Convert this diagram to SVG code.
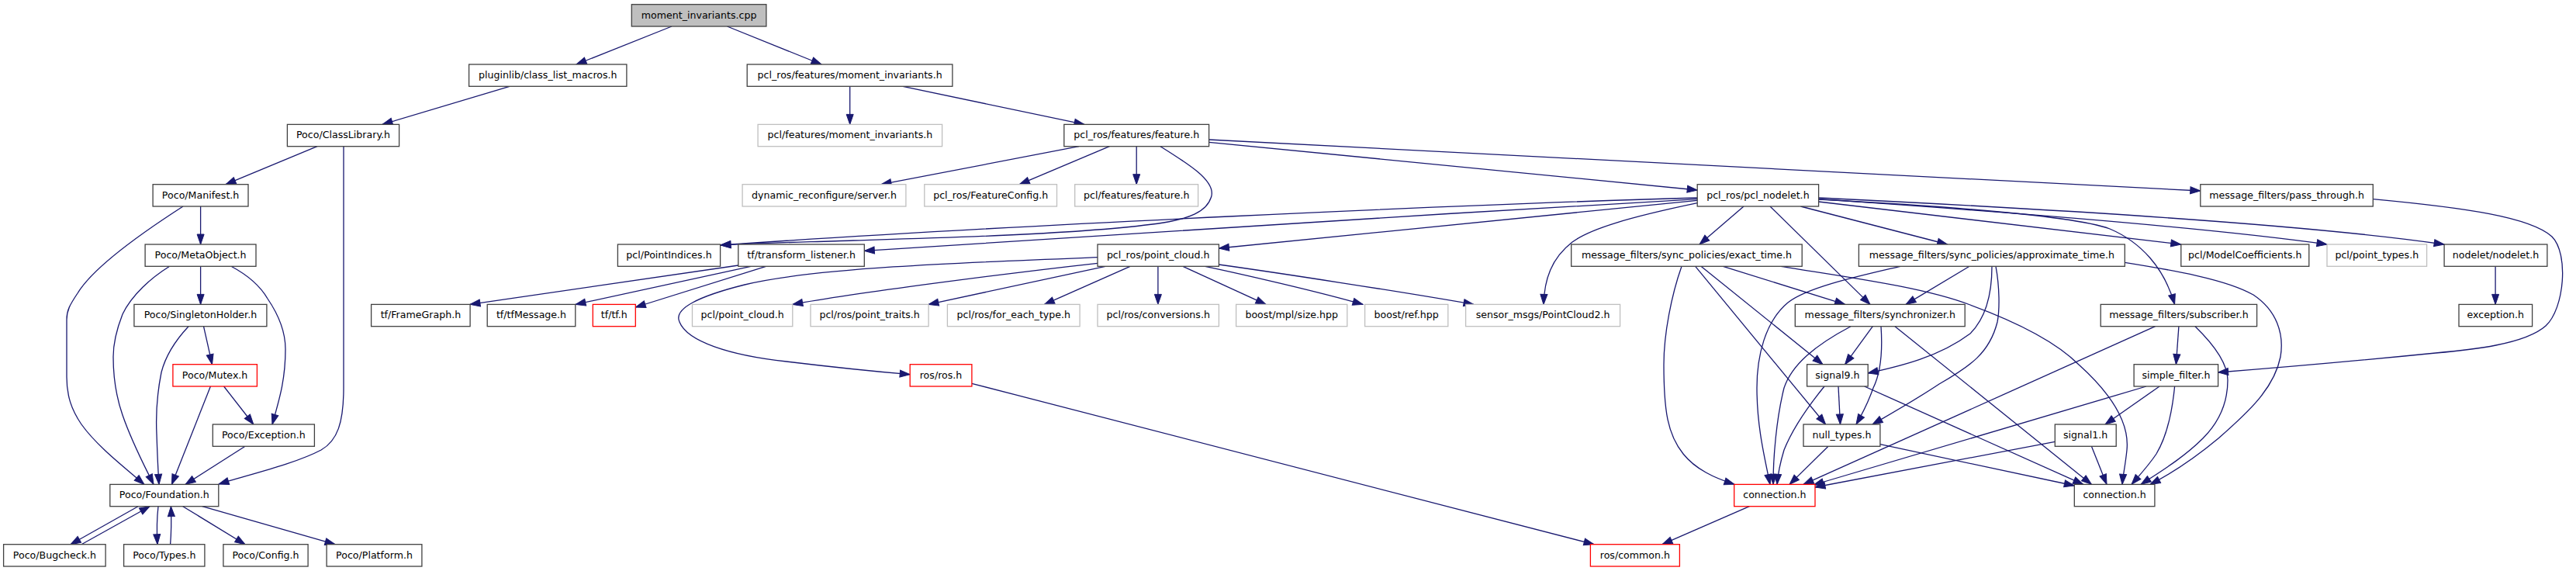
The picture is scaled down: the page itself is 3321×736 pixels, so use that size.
<svg xmlns="http://www.w3.org/2000/svg" width="3321" height="736" viewBox="0 0 3321 736">
<style>
.node rect{fill:#fff;stroke:#404040;stroke-width:1.3}
.node.g rect{stroke:#bfbfbf}
.node.r rect{stroke:#ff0000}
.node.root rect{fill:#bfbfbf}
.node text{font-family:"DejaVu Sans",sans-serif;font-size:12.6px;fill:#000;text-anchor:middle}
.edges path{fill:none;stroke:#191970;stroke-width:1.3;marker-end:url(#a)}
</style>
<defs>
<marker id="a" markerUnits="userSpaceOnUse" markerWidth="14" markerHeight="10" refX="13" refY="5" orient="auto" overflow="visible">
<path d="M0,0.5 L13,5 L0,9.5 z" fill="#191970" stroke="#191970" stroke-width="1"/>
</marker>
</defs>
<rect width="3321" height="736" fill="#fff"/>
<g class="edges">
<path d="M866,34 L743,83"/>
<path d="M937.5,34 L1059,83"/>
<path d="M657,111.3 L493,160.4"/>
<path d="M1095.7,111.3 L1095.7,160.4"/>
<path d="M1164,111.3 L1398,160.4"/>
<path d="M409,188.7 L291,237.7"/>
<path d="M443,188.7 L443,500 C443,545 435,568 414,580 C380,598 320,612 282,624"/>
<path d="M258.6,266 L258.6,315"/>
<path d="M236,266 C180,302 120,345 100,378 C90,393 86,400 86,412 L86,486 C86,510 92,528 105,547 C125,575 160,602 186,624.4"/>
<path d="M258.6,343.3 L258.6,392.4"/>
<path d="M218.6,343.3 C195,358 170,380 158,405 C149,428 146,445 146,460 C146,490 150,512 158,535 C170,570 185,598 198,624.4"/>
<path d="M298,343.3 C320,355 335,368 345,385 C362,410 368,430 368,450 C368,490 360,515 351,547"/>
<path d="M262.5,420.7 L273.5,469.7"/>
<path d="M243,420.7 C225,440 213,460 208,480 C202,510 201,540 202,560 C203,590 204,610 205,624.4"/>
<path d="M271.4,498 L221.4,624.4"/>
<path d="M288.6,498 L326.8,547"/>
<path d="M316,575.3 L239,624.4"/>
<path d="M178,652.7 L91,701.7"/>
<path d="M105,701.7 L193,652.7"/>
<path d="M204,652.7 C202,670 202,685 203,701.7"/>
<path d="M219.6,701.7 C221,685 221,670 220.4,652.7"/>
<path d="M235.7,652.7 L316,701.7"/>
<path d="M260.7,652.7 L432,701.7"/>
<path d="M1391,188.7 L1136,237.7"/>
<path d="M1430.4,188.7 L1314.3,237.7"/>
<path d="M1465.2,188.7 L1465.2,237.7"/>
<path d="M1496,188.7 C1530,210 1566,232 1562,252 C1557,274 1530,282 1500,287 C1400,302 1200,307 1100,310 C1040,312 980,313 929,316"/>
<path d="M1558.6,183.3 L2188.2,245"/>
<path d="M1558.6,180 L2836.8,246"/>
<path d="M2188.2,255 C1900,263 1300,290 929,316"/>
<path d="M2188.2,256.7 C1800,278 1300,312 1114.3,323.3"/>
<path d="M2188.2,258.3 L1571.4,320"/>
<path d="M2188.2,261.7 C2100,280 2050,295 2027,312 C2000,333 1991,360 1990,392.4"/>
<path d="M2248,266 L2191,315"/>
<path d="M2282,266 L2411,392.4"/>
<path d="M2321.4,266 L2510.7,315"/>
<path d="M2344.6,260 L2811.8,315"/>
<path d="M2344.6,256.7 C2600,274 2850,294 3000,315"/>
<path d="M2344.6,255 C2700,272 3000,293 3151.1,315"/>
<path d="M2344.6,257 C2550,268 2680,280 2720,295 C2760,312 2790,345 2803.6,392.4"/>
<path d="M952,342 L606,392.4"/>
<path d="M968,343.3 L742,392.4"/>
<path d="M987.5,343.3 L819.3,396"/>
<path d="M1415,331.7 C1250,338 1050,345 960,367 C900,382 868,398 876,415 C886,440 940,458 1014,466 C1080,474 1130,479 1173.2,482.7"/>
<path d="M1415,339.3 C1300,352 1100,378 1021.8,392.4"/>
<path d="M1425,343.3 L1197,392.4"/>
<path d="M1457,343.3 L1346.4,392.4"/>
<path d="M1492.9,343.3 L1492.9,392.4"/>
<path d="M1525,343.3 L1632,392.4"/>
<path d="M1553.6,343.3 C1600,353 1700,376 1757,392.4"/>
<path d="M1571.4,341 C1650,352 1800,375 1900,392.4"/>
<path d="M2168,343.3 C2155,380 2145,430 2145,470 C2145,530 2150,560 2170,585 C2186,605 2210,616 2236,624.4"/>
<path d="M2185.7,343.3 L2353.6,547"/>
<path d="M2193,343.3 L2350,469.7"/>
<path d="M2221.4,343.3 L2378.6,392.4"/>
<path d="M2296,343.3 C2380,357 2480,370 2540,393 C2600,415 2650,440 2680,470 C2730,515 2745,550 2742,580 C2740,600 2737,612 2736,624.4"/>
<path d="M2450,343.3 C2400,355 2330,370 2305,390 C2275,415 2265,460 2265,500 C2265,550 2275,590 2282,624.4"/>
<path d="M2539,343.3 L2457,392.4"/>
<path d="M2568,343.3 C2568,380 2560,410 2540,430 C2500,460 2450,472 2408.2,481"/>
<path d="M2573,343.3 C2578,370 2578,400 2575,415 C2565,455 2540,472 2500,495 C2470,515 2440,532 2414,547"/>
<path d="M2739.3,338.3 C2800,348 2870,360 2905,380 C2935,400 2945,430 2940,460 C2932,500 2900,530 2860,565 C2830,590 2800,610 2772,624.4"/>
<path d="M2808.9,420.7 L2805.4,469.7"/>
<path d="M2830,420.7 C2855,445 2872,470 2872,490 C2872,520 2860,545 2840,565 C2815,590 2785,608 2760,624.4"/>
<path d="M2778.6,420.7 L2325,624.4"/>
<path d="M2803.6,498 C2800,535 2792,565 2780,585 C2770,600 2758,613 2748,624.4"/>
<path d="M2767,498 L2338,625"/>
<path d="M2784,498 L2714,547"/>
<path d="M2649.3,569.3 L2340,628"/>
<path d="M2696.4,575.3 L2716,624.4"/>
<path d="M2414.3,420.7 L2378.6,469.7"/>
<path d="M2425,420.7 C2427,450 2425,480 2415,500 C2408,520 2400,535 2393,547"/>
<path d="M2386,420.7 C2340,445 2310,470 2300,500 C2290,540 2286,590 2286,624.4"/>
<path d="M2443,420.7 L2696.4,624.4"/>
<path d="M2370,498 L2372.5,547"/>
<path d="M2352,498 C2330,525 2310,555 2300,580 C2294,600 2292,612 2291,624.4"/>
<path d="M2403.6,498 L2685.7,624.4"/>
<path d="M2357,575.3 L2307,624.4"/>
<path d="M2423.9,572.7 L2674.3,626"/>
<path d="M2255.4,652.7 L2143,701.7"/>
<path d="M1252.9,494.3 L2055,701.7"/>
<path d="M3217.1,343.3 L3217.1,392.4"/>
<path d="M3059.3,256.7 C3180,268 3262,280 3290,305 C3312,327 3306,398 3282,420 C3255,444 3185,451 3140,455 C3050,464 2950,473 2859.6,480"/>
</g>
<g id="n_cpp" class="node root"><rect x="814.3" y="5.7" width="173.6" height="28.3"/><text x="901.1" y="23.7">moment_invariants.cpp</text></g>
<g id="n_pluginlib" class="node"><rect x="604.6" y="83" width="203.3" height="28.3"/><text x="706.3" y="101">pluginlib/class_list_macros.h</text></g>
<g id="n_pclros_mi" class="node"><rect x="963.2" y="83" width="264.7" height="28.3"/><text x="1095.6" y="101">pcl_ros/features/moment_invariants.h</text></g>
<g id="n_classlib" class="node"><rect x="370.4" y="160.4" width="144.2" height="28.3"/><text x="442.5" y="178.4">Poco/ClassLibrary.h</text></g>
<g id="n_pcl_mi" class="node g"><rect x="977.1" y="160.4" width="237.5" height="28.3"/><text x="1095.9" y="178.4">pcl/features/moment_invariants.h</text></g>
<g id="n_feature" class="node"><rect x="1371.8" y="160.4" width="186.8" height="28.3"/><text x="1465.2" y="178.4">pcl_ros/features/feature.h</text></g>
<g id="n_manifest" class="node"><rect x="197.1" y="237.7" width="122.9" height="28.3"/><text x="258.6" y="255.7">Poco/Manifest.h</text></g>
<g id="n_dynrec" class="node g"><rect x="957.1" y="237.7" width="210.8" height="28.3"/><text x="1062.5" y="255.7">dynamic_reconfigure/server.h</text></g>
<g id="n_featcfg" class="node g"><rect x="1191.8" y="237.7" width="170.7" height="28.3"/><text x="1277.2" y="255.7">pcl_ros/FeatureConfig.h</text></g>
<g id="n_pclfeat" class="node g"><rect x="1385.7" y="237.7" width="158.9" height="28.3"/><text x="1465.2" y="255.7">pcl/features/feature.h</text></g>
<g id="n_nodeletpcl" class="node"><rect x="2188.2" y="237.7" width="156.4" height="28.3"/><text x="2266.4" y="255.7">pcl_ros/pcl_nodelet.h</text></g>
<g id="n_passthrough" class="node"><rect x="2836.8" y="237.7" width="222.5" height="28.3"/><text x="2948.1" y="255.7">message_filters/pass_through.h</text></g>
<g id="n_metaobject" class="node"><rect x="187.1" y="315" width="142.9" height="28.3"/><text x="258.6" y="333">Poco/MetaObject.h</text></g>
<g id="n_pointindices" class="node"><rect x="796.4" y="315" width="132.2" height="28.3"/><text x="862.5" y="333">pcl/PointIndices.h</text></g>
<g id="n_tflistener" class="node"><rect x="951.8" y="315" width="162.5" height="28.3"/><text x="1033.1" y="333">tf/transform_listener.h</text></g>
<g id="n_pclros_pc" class="node"><rect x="1415" y="315" width="156.4" height="28.3"/><text x="1493.2" y="333">pcl_ros/point_cloud.h</text></g>
<g id="n_exact" class="node"><rect x="2025.7" y="315" width="297.5" height="28.3"/><text x="2174.5" y="333">message_filters/sync_policies/exact_time.h</text></g>
<g id="n_approx" class="node"><rect x="2396.4" y="315" width="342.9" height="28.3"/><text x="2567.9" y="333">message_filters/sync_policies/approximate_time.h</text></g>
<g id="n_modelcoef" class="node"><rect x="2811.8" y="315" width="165" height="28.3"/><text x="2894.3" y="333">pcl/ModelCoefficients.h</text></g>
<g id="n_pointtypes" class="node g"><rect x="3000" y="315" width="128.6" height="28.3"/><text x="3064.3" y="333">pcl/point_types.h</text></g>
<g id="n_nodelet" class="node"><rect x="3151.1" y="315" width="132.8" height="28.3"/><text x="3217.5" y="333">nodelet/nodelet.h</text></g>
<g id="n_singleton" class="node"><rect x="172.9" y="392.4" width="171" height="28.3"/><text x="258.4" y="410.4">Poco/SingletonHolder.h</text></g>
<g id="n_framegraph" class="node"><rect x="478.6" y="392.4" width="127.5" height="28.3"/><text x="542.4" y="410.4">tf/FrameGraph.h</text></g>
<g id="n_tfmessage" class="node"><rect x="628.2" y="392.4" width="113.6" height="28.3"/><text x="685" y="410.4">tf/tfMessage.h</text></g>
<g id="n_tf" class="node r"><rect x="764.3" y="392.4" width="55" height="28.3"/><text x="791.8" y="410.4">tf/tf.h</text></g>
<g id="n_pcl_pc" class="node g"><rect x="892.5" y="392.4" width="129.3" height="28.3"/><text x="957.2" y="410.4">pcl/point_cloud.h</text></g>
<g id="n_traits" class="node g"><rect x="1045" y="392.4" width="152.1" height="28.3"/><text x="1121.1" y="410.4">pcl/ros/point_traits.h</text></g>
<g id="n_foreach" class="node g"><rect x="1221.4" y="392.4" width="170.7" height="28.3"/><text x="1306.8" y="410.4">pcl/ros/for_each_type.h</text></g>
<g id="n_conversions" class="node g"><rect x="1415" y="392.4" width="156.4" height="28.3"/><text x="1493.2" y="410.4">pcl/ros/conversions.h</text></g>
<g id="n_mplsize" class="node g"><rect x="1593.6" y="392.4" width="143.2" height="28.3"/><text x="1665.2" y="410.4">boost/mpl/size.hpp</text></g>
<g id="n_ref" class="node g"><rect x="1759.6" y="392.4" width="107.2" height="28.3"/><text x="1813.2" y="410.4">boost/ref.hpp</text></g>
<g id="n_pc2" class="node g"><rect x="1889.6" y="392.4" width="199" height="28.3"/><text x="1989.1" y="410.4">sensor_msgs/PointCloud2.h</text></g>
<g id="n_sync" class="node"><rect x="2314.3" y="392.4" width="218.9" height="28.3"/><text x="2423.8" y="410.4">message_filters/synchronizer.h</text></g>
<g id="n_subscriber" class="node"><rect x="2708.2" y="392.4" width="201.4" height="28.3"/><text x="2808.9" y="410.4">message_filters/subscriber.h</text></g>
<g id="n_exception" class="node"><rect x="3170" y="392.4" width="94.6" height="28.3"/><text x="3217.3" y="410.4">exception.h</text></g>
<g id="n_mutex" class="node r"><rect x="222.9" y="469.7" width="108.5" height="28.3"/><text x="277.1" y="487.7">Poco/Mutex.h</text></g>
<g id="n_ros" class="node r"><rect x="1173.2" y="469.7" width="79.7" height="28.3"/><text x="1213" y="487.7">ros/ros.h</text></g>
<g id="n_signal9" class="node"><rect x="2329.6" y="469.7" width="78.6" height="28.3"/><text x="2368.9" y="487.7">signal9.h</text></g>
<g id="n_simplefilter" class="node"><rect x="2751.1" y="469.7" width="108.5" height="28.3"/><text x="2805.4" y="487.7">simple_filter.h</text></g>
<g id="n_pocoexc" class="node"><rect x="274.3" y="547" width="131.1" height="28.3"/><text x="339.8" y="565">Poco/Exception.h</text></g>
<g id="n_nulltypes" class="node"><rect x="2325" y="547" width="98.9" height="28.3"/><text x="2374.5" y="565">null_types.h</text></g>
<g id="n_signal1" class="node"><rect x="2649.3" y="547" width="78.9" height="28.3"/><text x="2688.7" y="565">signal1.h</text></g>
<g id="n_foundation" class="node"><rect x="141.8" y="624.4" width="140" height="28.3"/><text x="211.8" y="642.4">Poco/Foundation.h</text></g>
<g id="n_conn_red" class="node r"><rect x="2235.7" y="624.4" width="104.3" height="28.3"/><text x="2287.9" y="642.4">connection.h</text></g>
<g id="n_conn" class="node"><rect x="2674.3" y="624.4" width="103.6" height="28.3"/><text x="2726.1" y="642.4">connection.h</text></g>
<g id="n_bugcheck" class="node"><rect x="4.6" y="701.7" width="131.5" height="28.3"/><text x="70.4" y="719.7">Poco/Bugcheck.h</text></g>
<g id="n_types" class="node"><rect x="159.6" y="701.7" width="104.3" height="28.3"/><text x="211.8" y="719.7">Poco/Types.h</text></g>
<g id="n_config" class="node"><rect x="287.9" y="701.7" width="109.2" height="28.3"/><text x="342.5" y="719.7">Poco/Config.h</text></g>
<g id="n_platform" class="node"><rect x="421.1" y="701.7" width="122.8" height="28.3"/><text x="482.5" y="719.7">Poco/Platform.h</text></g>
<g id="n_common" class="node r"><rect x="2050.4" y="701.7" width="115" height="28.3"/><text x="2107.9" y="719.7">ros/common.h</text></g>
</svg>
